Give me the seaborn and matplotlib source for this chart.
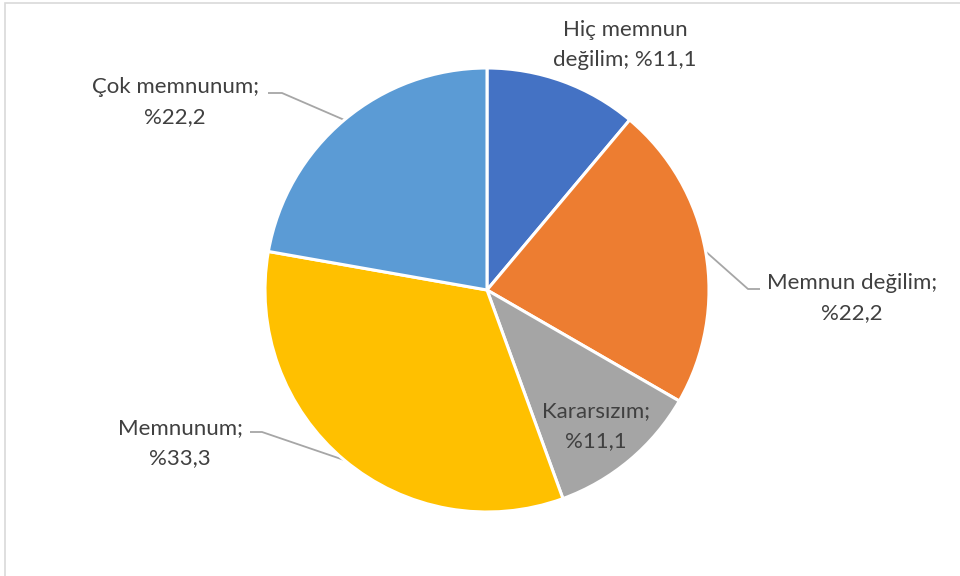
import numpy as np
import matplotlib
matplotlib.use("Agg")
import matplotlib.pyplot as plt
import seaborn as sns

categories = ["Hiç memnun değilim", "Memnun değilim", "Kararsızım", "Memnunum", "Çok memnunum"]
values = [11.1, 22.2, 11.1, 33.3, 22.2]
label_texts = ["Hiç memnun\ndeğilim; %11,1", "Memnun değilim;\n%22,2", "Kararsızım;\n%11,1",
               "Memnunum;\n%33,3", "Çok memnunum;\n%22,2"]

colors = sns.color_palette(["#4472C4", "#ED7D31", "#A5A5A5", "#FFC000", "#5B9BD5"])

sns.set_theme(style="white")
plt.rcParams["font.family"] = ["Lato", "DejaVu Sans"]

W, H = 960, 576
fig = plt.figure(figsize=(9.6, 5.76), dpi=100)
ax = fig.add_axes([0, 0, 1, 1])
ax.set_xlim(0, W)
ax.set_ylim(0, H)
ax.set_aspect("equal")
ax.axis("off")

cx, cy, R = 487, H - 290, 222
wedges, _ = ax.pie(values, colors=colors, startangle=90, counterclock=False,
                   center=(cx, cy), radius=R,
                   wedgeprops=dict(edgecolor="white", linewidth=2.2))
ax.set_xlim(0, W)
ax.set_ylim(0, H)

# label layout (pixel positions from top-left)
layout = [
    (625, 45, None),
    (852, 298, (748, 760, 289)),
    (596, 426, None),
    (180, 443, (262, 250, 432)),
    (175, 102, (282, 268, 93)),
]
txt_color = "#404040"
for w, lab, (tx, ty, lead) in zip(wedges, label_texts, layout):
    ax.text(tx, H - ty, lab, ha="center", va="center", fontsize=16,
            color=txt_color, linespacing=1.6)
    if lead is not None:
        mid = np.deg2rad((w.theta1 + w.theta2) / 2)
        sx, sy = cx + R * np.cos(mid), cy + R * np.sin(mid)
        ex, ix, ly = lead
        ax.plot([sx, ex, ix], [sy, H - ly, H - ly], color="#A6A6A6", lw=1.3,
                solid_capstyle="butt", zorder=0.5)

# chart area border
fig.patches.append(plt.Rectangle((4.5 / W, -0.1), 1.2, (H - 2.5) / H + 0.1,
                                 transform=fig.transFigure, fill=False,
                                 edgecolor="#D9D9D9", lw=1.2))

fig.savefig("out.png", dpi=100, facecolor="white")
